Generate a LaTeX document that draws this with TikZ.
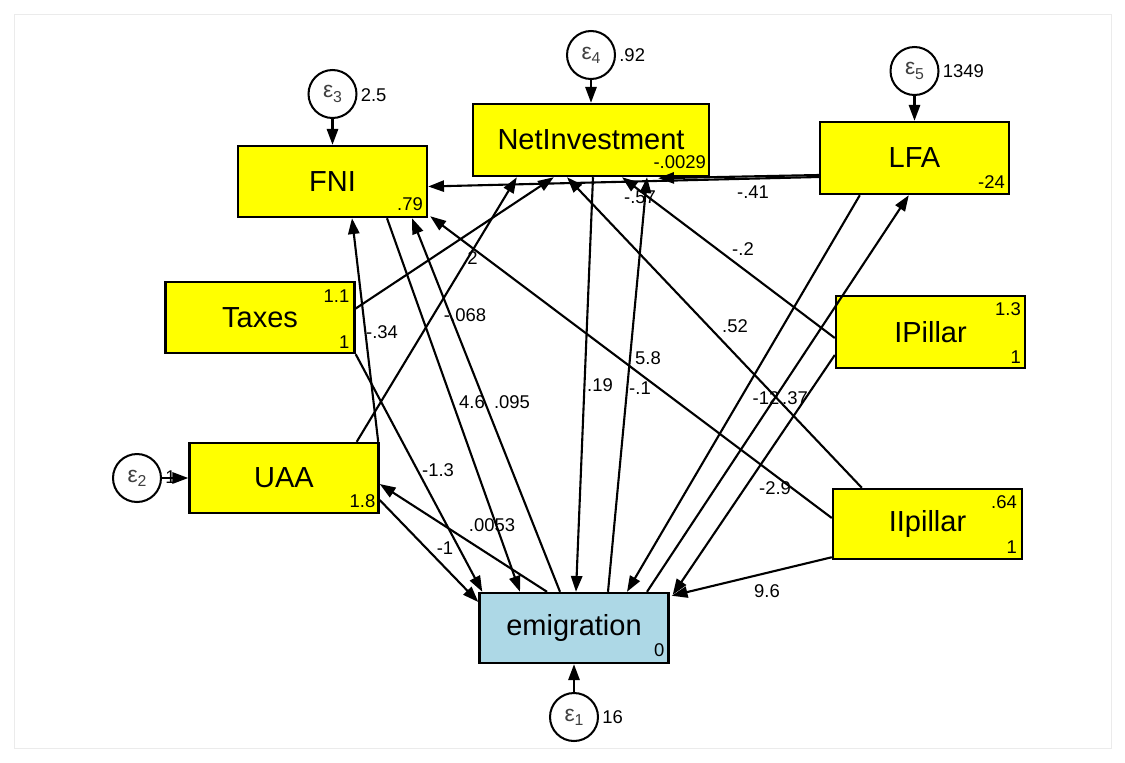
\documentclass[tikz,border=0pt]{standalone}
\usepackage{fontspec}
\setmainfont{Liberation Sans}
\usetikzlibrary{arrows.meta,calc}
\definecolor{semyellow}{RGB}{255,255,0}
\definecolor{semblue}{RGB}{173,216,230}
\begin{document}
\begin{tikzpicture}[x=0.02cm,y=-0.02cm,
  box/.style={draw=black,line width=1.4pt,fill=semyellow,inner sep=0pt,
    minimum width=3.78cm,minimum height=1.42cm,font=\fontsize{16.5}{18}\selectfont},
  err/.style={circle,draw=black,line width=1.15pt,fill=white,inner sep=0pt,minimum size=0.96cm},
  num/.style={inner sep=0pt,font=\fontsize{10.5}{12}\selectfont},
  arr/.style={line width=1.2pt,-{Triangle[length=9pt,width=6.4pt]}},
  plain/.style={line width=1.2pt}]
\useasboundingbox (0,0) rectangle (1125,762);
\fill[white] (0,0) rectangle (1125,762);
\draw[black!8,line width=0.5pt] (14,14) rectangle (1111,748);

% boxes
\node[box] (FNI) at (332.5,181.5) {FNI};
\node[box,minimum width=4.72cm,minimum height=1.44cm] (NI) at (591,140) {NetInvestment};
\node[box,minimum height=1.44cm] (LFA) at (914.5,158) {LFA};
\node[box] (Taxes) at (260,317.5) {Taxes};
\node[box,minimum height=1.4cm] (UAA) at (284,478) {UAA};
\node[box,minimum height=1.44cm] (IPillar) at (930.5,332) {IPillar};
\node[box,minimum height=1.4cm] (IIpillar) at (927.5,524) {IIpillar};
\node[box,minimum height=1.4cm,fill=semblue] (emig) at (574,628) {emigration};

% error circles
\newcommand{\eps}[1]{{\fontsize{13}{13}\selectfont\color{black!75}ε\raisebox{-0.35ex}{\fontsize{9}{9}\selectfont #1}}}
\node[err] (e3) at (332.5,94) {\eps{3}};
\node[err] (e4) at (591,55) {\eps{4}};
\node[err] (e5) at (914.5,71) {\eps{5}};
\node[err] (e2) at (137,478) {\eps{2}};
\node[err] (e1) at (574,717) {\eps{1}};

\node[num,anchor=west] (v3) at ($(e3.east)+(3,1)$) {2.5};
\node[num,anchor=west] (v4) at ($(e4.east)+(3,0)$) {.92};
\node[num,anchor=west] (v5) at ($(e5.east)+(3,0)$) {1349};
\node[num,anchor=west] (v2) at ($(e2.east)+(3,-1)$) {1};
\node[num,anchor=west] (v1) at ($(e1.east)+(3,0)$) {16};

% intercepts / variances in boxes
\node[num,anchor=base east] (iFNI) at ($(FNI.south east)+(-5,-8)$) {.79};
\node[num,anchor=base east] (iNI) at ($(NI.south east)+(-4,-9)$) {-.0029};
\node[num,anchor=base east] (iLFA) at ($(LFA.south east)+(-5,-7)$) {-24};
\node[num,anchor=base east] (mTax) at ($(Taxes.north east)+(-6,22)$) {1.1};
\node[num,anchor=base east] (vTax) at ($(Taxes.south east)+(-6,-6)$) {1};
\node[num,anchor=base east] (iUAA) at ($(UAA.south east)+(-4,-7)$) {1.8};
\node[num,anchor=base east] (mIP) at ($(IPillar.north east)+(-5,21)$) {1.3};
\node[num,anchor=base east] (vIP) at ($(IPillar.south east)+(-5,-6)$) {1};
\node[num,anchor=base east] (mIIP) at ($(IIpillar.north east)+(-6,21)$) {.64};
\node[num,anchor=base east] (vIIP) at ($(IIpillar.south east)+(-6,-7)$) {1};
\node[num,anchor=base east] (iEm) at ($(emig.south east)+(-5,-8)$) {0};

% error arrows
\draw[arr] (e3) -- (FNI);
\draw[arr] (e4) -- (NI);
\draw[arr] (e5) -- (LFA);
\draw[arr] (e2) -- (UAA);
\draw[arr] (e1) -- (emig);

% structural paths
\draw[arr] ($(LFA.west)+(0,19)$) -- ($(FNI.east)+(0,5)$);
\draw[arr] ($(LFA.west)+(0,17)$) -- ($(NI.south east)+(-52,1)$);
\draw[arr] ($(IPillar.west)+(0,6)$) -- ($(NI.south)+(31,0)$);
\draw[arr] ($(UAA.north east)+(-23,0)$) -- ($(NI.south west)+(45,0)$);
\draw[arr] ($(Taxes.east)+(0,-9)$) -- ($(NI.south west)+(82,0)$);
\draw[arr] ($(NI.south)+(2,0)$) -- ($(emig.north)+(2,0)$);
\draw[arr] ($(emig.north)+(34,0)$) -- ($(NI.south)+(56,0)$);
\draw[arr] ($(IIpillar.west)+(0,-6)$) -- ($(FNI.south east)+(2,-2)$);
\draw[arr] ($(IIpillar.north west)+(30,0)$) -- ($(NI.south)+(-24,0)$);
\draw[arr] ($(IIpillar.south west)+(0,-3)$) -- ($(emig.north east)+(2,4)$);
\draw[arr] ($(IPillar.west)+(0,23)$) -- ($(emig.north east)+(3,3)$);
\draw[arr] ($(LFA.south west)+(41,0)$) -- ($(emig.north)+(53,0)$);
\draw[arr] ($(emig.north)+(73,0)$) -- ($(LFA.south west)+(90,0)$);
\draw[arr] ($(emig.north)+(-14,0)$) -- ($(FNI.south)+(79.5,0)$);
\draw[arr] ($(FNI.south)+(54.5,0)$) -- ($(emig.north)+(-54,0)$);
\draw[arr] ($(UAA.north east)+(-1.5,0)$) -- ($(FNI.south)+(19.5,0)$);
\draw[arr] ($(emig.north)+(-27,0)$) -- ($(UAA.east)+(0,6)$);
\draw[arr] ($(UAA.east)+(0,22)$) -- ($(emig.west)+(0,-26)$);
\draw[arr] (Taxes.south east) -- ($(emig.north west)+(4,0)$);

% path coefficients
\node[num] (c1) at (753,192) {-.41};
\node[num] (c2) at (640,197) {-.57};
\node[num] (c3) at (743,249) {-.2};
\node[num] (c4) at (470,258) {.2};
\node[num] (c5) at (382,332) {-.34};
\node[num] (c6) at (465,315) {-.068};
\node[num] (c7) at (472,402) {4.6};
\node[num] (c8) at (512,402) {.095};
\node[num] (c9) at (600,385) {.19};
\node[num] (c10) at (640,388) {-.1};
\node[num] (c11) at (648,358) {5.8};
\node[num] (c12) at (735,326) {.52};
\node[num] (c13) at (766,398) {-12};
\node[num] (c14) at (795,398) {.37};
\node[num] (c15) at (775,488) {-2.9};
\node[num] (c16) at (438,470) {-1.3};
\node[num] (c17) at (492,525) {.0053};
\node[num] (c18) at (445,548) {-1};
\node[num] (c19) at (767,591) {9.6};
\end{tikzpicture}
\end{document}
